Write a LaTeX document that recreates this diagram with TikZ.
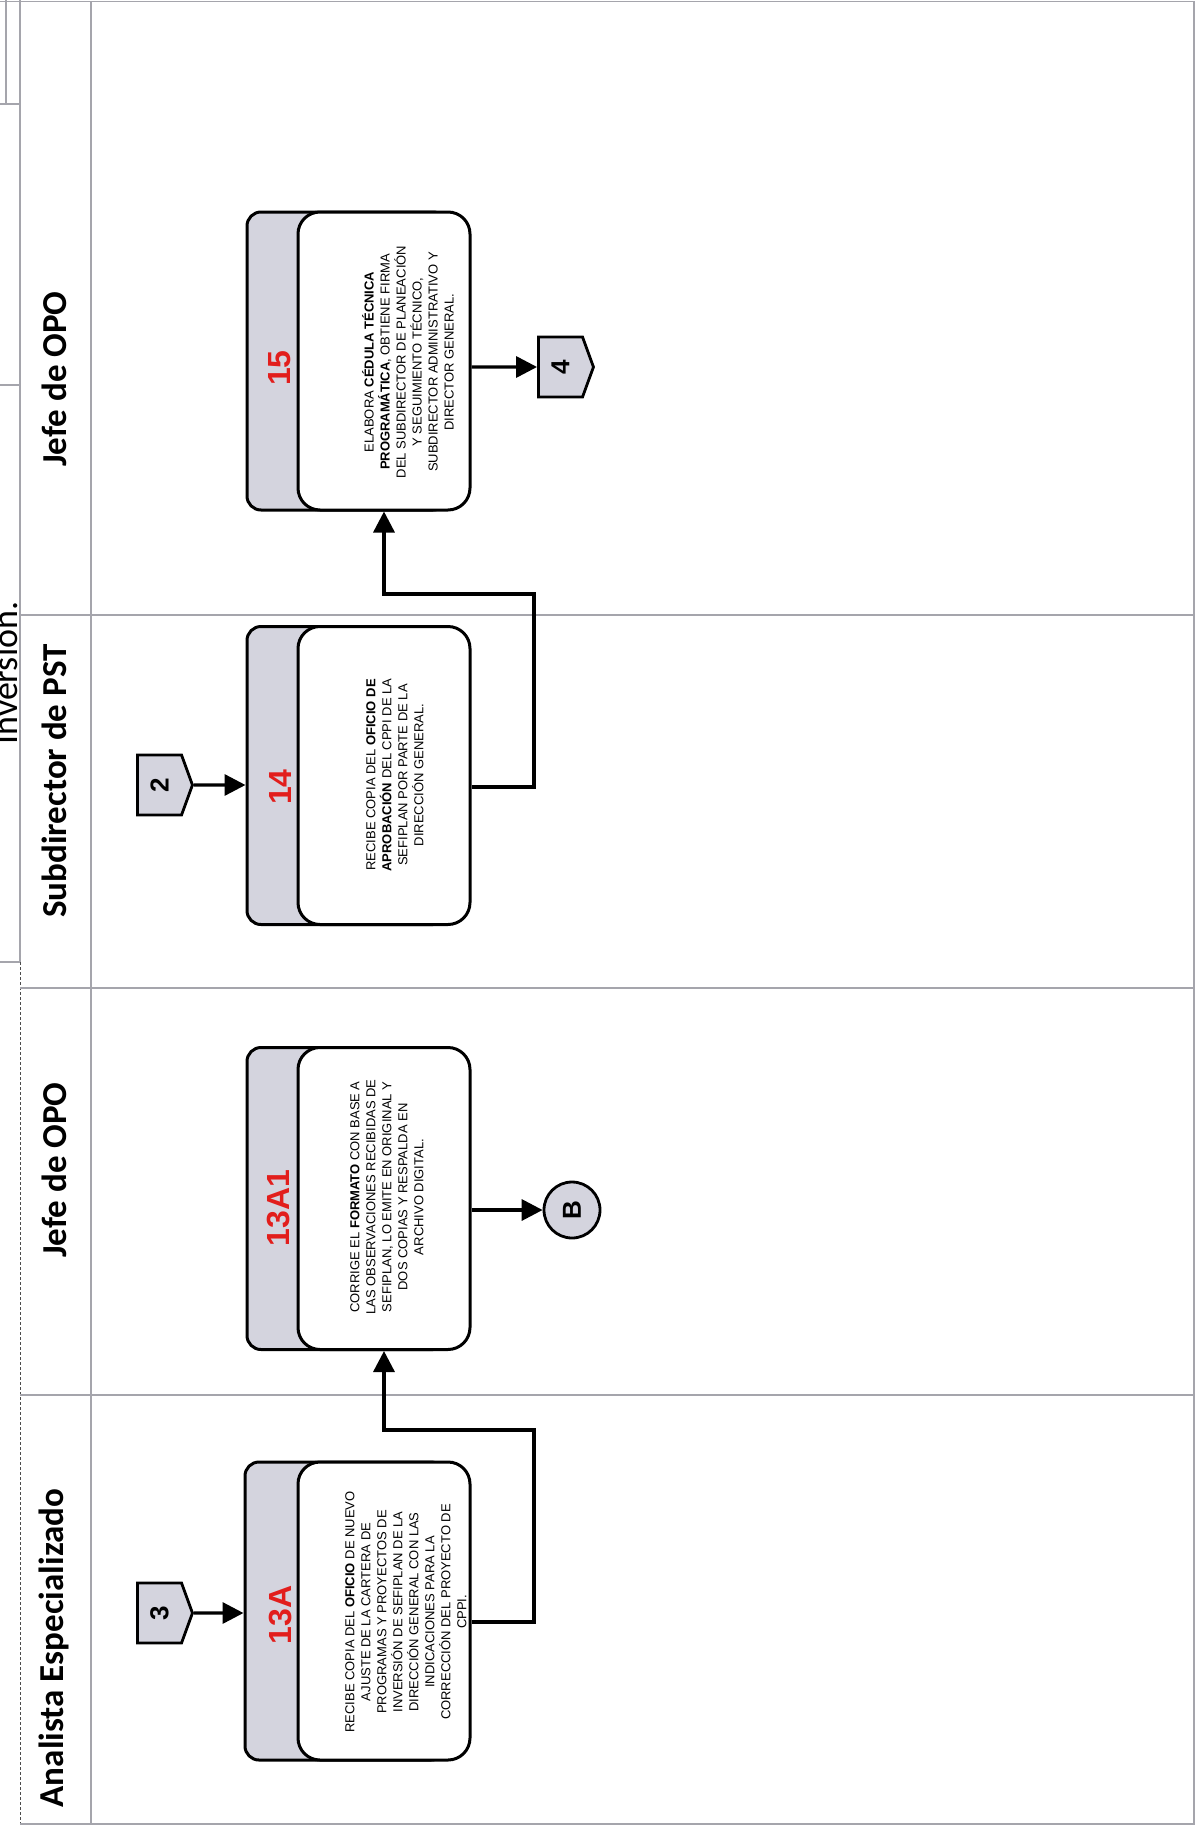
\documentclass[tikz,border=0pt]{standalone}
\usepackage{fontspec}
\usepackage{graphicx}
\setmainfont{Liberation Sans}
\newfontfamily\hdrfont{Carlito}
\usetikzlibrary{shapes.symbols,arrows.meta}
\definecolor{hdrgray}{RGB}{212,212,222}
\definecolor{numred}{RGB}{226,30,28}
\definecolor{lanegray}{RGB}{165,165,172}

\tikzset{
  lane/.style={draw=lanegray, line width=1.3pt},
  hdr/.style={rotate=90, inner sep=0pt, font=\hdrfont\bfseries\fontsize{35}{40}\selectfont},
  backbox/.style={draw=black, line width=3pt, fill=hdrgray, rounded corners=14pt,
    minimum width=200pt, minimum height=298pt, inner sep=0pt},
  frontbox/.style={draw=black, line width=3pt, fill=white, rounded corners=22pt,
    minimum width=172pt, minimum height=298pt, inner sep=0pt},
  stepno/.style={rotate=90, inner sep=0pt, text=numred, font=\bfseries\fontsize{32}{32}\selectfont},
  steptext/.style={rotate=90, align=center, inner sep=0pt, font=\fontsize{13}{16}\selectfont},
  offpage/.style={signal, signal to=east, signal pointer angle=140, draw=black,
    line width=2.8pt, fill=hdrgray, minimum width=55pt, minimum height=60pt, inner sep=0pt,
    font=\bfseries\fontsize{26}{26}\selectfont},
  onpage/.style={circle, draw=black, line width=2.8pt, fill=hdrgray, minimum size=56pt,
    inner sep=0pt, font=\bfseries\fontsize{26}{26}\selectfont},
  flow/.style={line width=3.4pt, -{Triangle[length=21pt,width=21pt]}}
}

\begin{document}
\begin{tikzpicture}[x=1pt,y=-1pt]
% page
\fill[white] (0,0) rectangle (1196,1828);
\useasboundingbox (0,0) rectangle (1196,1828);

% remnant of the preceding header strip
\draw[lane] (0,1.5) -- (20,1.5);
\draw[lane] (6,0) -- (6,104);
\draw[lane] (20,0) -- (20,962);
\draw[lane] (0,104) -- (20,104);
\draw[lane] (0,385) -- (20,385);
\draw[lane] (0,962) -- (20,962);
\draw[draw=black!70, line width=1pt, dash pattern=on 3pt off 2pt] (20,962) -- (20,1824);
\node[hdr, font=\hdrfont\fontsize{36}{40}\selectfont, anchor=base] (inv) at (17,673) {Inversión.};

% swimlane frame
\draw[lane] (20,1.5) -- (1194,1.5) -- (1194,1824) -- (20,1824);
\draw[lane] (91,1.5) -- (91,1824);
\draw[lane] (20,615) -- (1194,615);
\draw[lane] (20,988) -- (1194,988);
\draw[lane] (20,1395) -- (1194,1395);

% lane headers
\node[hdr] (h1) at (54,379) {Jefe de OPO};
\node[hdr] (h2) at (54,781) {Subdirector de PST};
\node[hdr] (h3) at (54,1170) {Jefe de OPO};
\node[hdr] (h4) at (54,1648) {Analista Especializado};

% step 15
\node[backbox] (b15h) at (347,361) {};
\node[frontbox] (b15) at (384,361) {};
\node[stepno] (n15) at (280,368) {15};
\node[steptext] (t15) at (408,362) {ELABORA \textbf{CÉDULA TÉCNICA}\\
  \textbf{PROGRAMÁTICA}, OBTIENE FIRMA\\
  DEL SUBDIRECTOR DE PLANEACIÓN\\
  Y SEGUIMIENTO TÉCNICO,\\
  SUBDIRECTOR ADMINISTRATIVO Y\\
  DIRECTOR GENERAL.};

% step 14
\node[backbox] (b14h) at (347,775.5) {};
\node[frontbox] (b14) at (384,775.5) {};
\node[stepno] (n14) at (280,787) {14};
\node[steptext] (t14) at (395,775) {RECIBE COPIA DEL \textbf{OFICIO DE}\\
  \textbf{APROBACIÓN} DEL CPPI DE LA\\
  SEFIPLAN POR PARTE DE LA\\
  DIRECCIÓN GENERAL.};

% step 13A1
\node[backbox, minimum height=302pt] (b13A1h) at (347,1198.5) {};
\node[frontbox, minimum height=302pt] (b13A1) at (384,1198.5) {};
\node[stepno] (n13A1) at (279,1208) {13A1};
\node[steptext] (t13A1) at (387,1197) {CORRIGE EL \textbf{FORMATO} CON BASE A\\
  LAS OBSERVACIONES RECIBIDAS DE\\
  SEFIPLAN, LO EMITE EN ORIGINAL Y\\
  DOS COPIAS Y RESPALDA EN\\
  ARCHIVO DIGITAL.};

% step 13A
\node[backbox] (b13Ah) at (345,1611) {};
\node[frontbox] (b13A) at (384,1611) {};
\node[stepno] (n13A) at (281,1615) {13A};
\node[steptext] (t13A) at (406,1612) {RECIBE COPIA DEL \textbf{OFICIO} DE NUEVO\\
  AJUSTE DE LA CARTERA DE\\
  PROGRAMAS Y PROYECTOS DE\\
  INVERSIÓN DE SEFIPLAN DE LA\\
  DIRECCIÓN GENERAL CON LAS\\
  INDICACIONES PARA LA\\
  CORRECCIÓN DEL PROYECTO DE\\
  CPPI.};

% connectors
\node[offpage] (c2) at (159.5,785) {\rotatebox{90}{2}};
\node[offpage] (c3) at (159.5,1613) {\rotatebox{90}{3}};
\node[offpage] (c4) at (560.5,367) {\rotatebox{90}{4}};
\node[onpage] (cB) at (572,1210) {\rotatebox{90}{B}};

% bends of the flow lines
\coordinate (j14) at (534,594);
\coordinate (j13) at (534,1430);

% flow
\draw[flow] (c2) -- (c2 -| b14h.west);
\draw[flow] (c3) -- (c3 -| b13Ah.west);
\draw[flow] (b15.east |- c4) -- (c4);
\draw[flow] (b13A1.east |- cB) -- (cB);
\draw[flow] ([yshift=-11.5pt]b14.east) -| (j14) -| (b15.south);
\draw[flow] ([yshift=-11pt]b13A.east) -| (j13) -| (b13A1.south);
\end{tikzpicture}
\end{document}
